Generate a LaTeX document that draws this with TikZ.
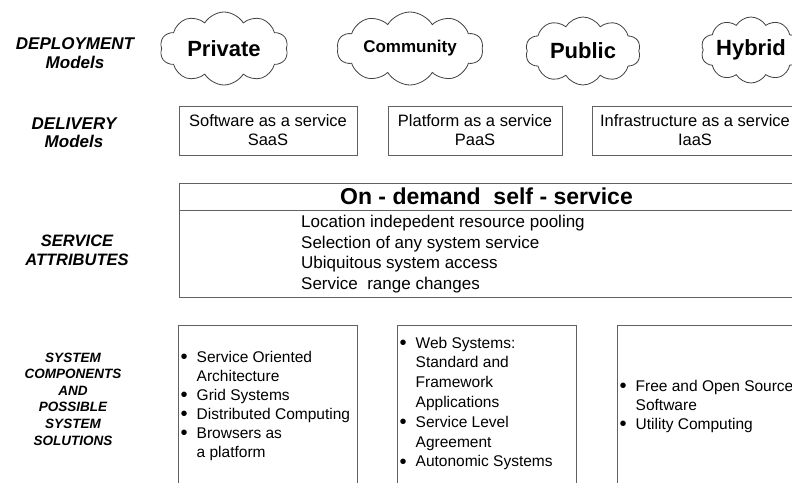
\documentclass[tikz,border=0pt]{standalone}
\usepackage{fontspec}
\setmainfont{Liberation Sans}
\usetikzlibrary{shapes.symbols}
\newcommand{\bul}{\makebox[15.5pt][l]{\hspace*{-0.5pt}\raisebox{-1.2pt}{\scalebox{1.3}{\textbullet}}}}
\newcommand{\cont}{\hspace*{15.5pt}}
\begin{document}
\begin{tikzpicture}[x=1pt,y=-1pt,
  lbl/.style={font=\bfseries\itshape\fontsize{17}{18.5}\selectfont, align=center, inner sep=0},
  smlbl/.style={font=\bfseries\itshape\fontsize{13.5}{16.6}\selectfont, align=center, inner sep=0},
  cloudnode/.style={cloud, cloud puffs=10, cloud puff arc=118, cloud ignores aspect, draw=black!75, line width=0.8pt, inner sep=0, font=\bfseries\fontsize{22}{24}\selectfont},
  box/.style={draw=black!62, line width=0.9pt, rectangle, inner sep=0},
  boxtext/.style={font=\fontsize{16.5}{19}\selectfont, align=center, inner sep=0},
  bultext/.style={font=\fontsize{15.5}{19.2}\selectfont, align=left, inner sep=0, anchor=west}]
\useasboundingbox (0,0) rectangle (792,482);
\clip (0,0) rectangle (792,482);
\fill[white] (0,0) rectangle (792,482);
% left labels
\node[lbl] (ldep) at (75,53) {DEPLOYMENT\\Models};
\node[lbl] (ldel) at (74,132.5) {DELIVERY\\Models};
\node[lbl, font=\bfseries\itshape\fontsize{16.5}{19}\selectfont] (lsrv) at (77,250) {SERVICE\\ATTRIBUTES};
\node[smlbl] (lsys) at (73,399) {SYSTEM\\COMPONENTS\\AND\\POSSIBLE\\SYSTEM\\SOLUTIONS};
% clouds
\node[cloudnode, minimum width=128pt, minimum height=73pt] (private) at (224,48.5) {Private};
\node[cloudnode, minimum width=146pt, minimum height=73pt, font=\bfseries\fontsize{17}{19}\selectfont] (community) at (410,48.5) {Community};
\node[cloudnode, minimum width=115pt, minimum height=68pt] (public) at (583,51) {Public};
\node[cloudnode, minimum width=100pt, minimum height=66pt] (hybrid) at (751,50) {Hybrid};
% delivery boxes
\node[box, boxtext, minimum width=178pt, minimum height=49pt] (saas) at (268,130.5) {Software as a service\\SaaS};
\node[box, boxtext, minimum width=174pt, minimum height=49pt] (paas) at (475,130.5) {Platform as a service\\PaaS};
\node[box, boxtext, minimum width=206pt, minimum height=49pt] (iaas) at (695,130.5) {Infrastructure as a service\\IaaS};
% service attributes
\node[box, minimum width=615pt, minimum height=27pt, font=\bfseries\fontsize{23}{25}\selectfont] (head) at (486.5,196.5) {On - demand\ \ self - service};
\node[box, minimum width=615pt, minimum height=87pt] (attr) at (486.5,253.5) {};
\node[font=\fontsize{17}{20.5}\selectfont, align=left, inner sep=0, anchor=west] (attrtext) at (301,254)
  {Location indepedent resource pooling\\Selection of any system service\\Ubiquitous system access\\Service\ \ range changes};
% system component boxes
\node[box, minimum width=179pt, minimum height=175pt] (sys1) at (267.5,412.5) {};
\node[box, minimum width=179pt, minimum height=175pt] (sys2) at (486.5,412.5) {};
\node[box, minimum width=190pt, minimum height=175pt] (sys3) at (712,412.5) {};
\node[bultext, font=\fontsize{15.5}{19}\selectfont] (sys1text) at (181,405.5)
  {\bul Service Oriented\\\cont Architecture\\\bul Grid Systems\\\bul Distributed Computing\\\bul Browsers as\\\cont a platform};
\node[bultext, font=\fontsize{15.5}{19.8}\selectfont] (sys2text) at (400,403.5)
  {\bul Web Systems:\\\cont Standard and\\\cont Framework\\\cont Applications\\\bul Service Level\\\cont Agreement\\\bul Autonomic Systems};
\node[bultext, font=\fontsize{15.5}{19}\selectfont] (sys3text) at (620,406)
  {\bul Free and Open Source\\\cont Software\\\bul Utility Computing};
\end{tikzpicture}
\end{document}
